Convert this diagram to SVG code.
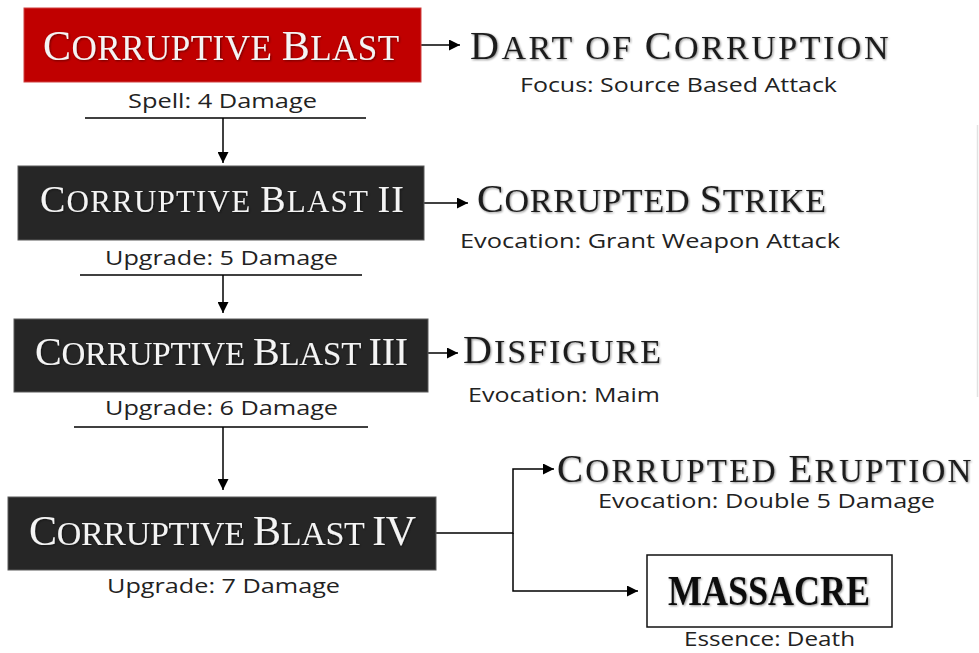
<svg xmlns="http://www.w3.org/2000/svg" width="979" height="653" viewBox="0 0 979 653">
<style>
.box{fill:#262626;stroke:#5a5a5a;stroke-width:1}
.red{fill:#c00000;stroke:#d04040;stroke-width:1}
.ttl{font-family:"Liberation Serif","Times New Roman",serif;fill:#f4f4f4}
.rt{font-family:"Liberation Serif","Times New Roman",serif;fill:#1e1e1e}
.sub{font-family:"Open Sans","Noto Sans","DejaVu Sans",sans-serif;font-size:20px;fill:#222}
.ln{stroke:#000;stroke-width:1.5;fill:none}
.shadow{filter:url(#sh)}
</style>
<defs>
<marker id="ah" markerUnits="userSpaceOnUse" markerWidth="11" markerHeight="11" refX="11" refY="5.5" orient="auto">
<path d="M0,0 L11,5.5 L0,11 z" fill="#000"/>
</marker>
<filter id="sh" x="-5%" y="-20%" width="110%" height="140%">
<feGaussianBlur in="SourceAlpha" stdDeviation="1.2" result="b"/>
<feOffset dx="0.5" dy="1" result="o"/>
<feComponentTransfer in="o" result="s"><feFuncA type="linear" slope="0.45"/></feComponentTransfer>
<feMerge><feMergeNode in="s"/><feMergeNode in="SourceGraphic"/></feMerge>
</filter>
</defs>
<rect width="979" height="653" fill="#fff"/>
<line x1="977.5" y1="125" x2="977.5" y2="397" stroke="#e2e2e2" stroke-width="1.5"/>

<g id="connectors">
<line class="ln" x1="85" y1="118" x2="366" y2="118"/>
<line class="ln" x1="80" y1="275" x2="362" y2="275"/>
<line class="ln" x1="74" y1="427" x2="368" y2="427"/>
<path class="ln" d="M223,118 V163" marker-end="url(#ah)"/>
<path class="ln" d="M223,275 V313" marker-end="url(#ah)"/>
<path class="ln" d="M223,427 V490" marker-end="url(#ah)"/>
<path class="ln" d="M421,45 H460" marker-end="url(#ah)"/>
<path class="ln" d="M424,203 H468" marker-end="url(#ah)"/>
<path class="ln" d="M428,353 H458" marker-end="url(#ah)"/>
<path class="ln" d="M436,533 H513 V469 H554" marker-end="url(#ah)"/>
<path class="ln" d="M513,533 V591 H638" marker-end="url(#ah)"/>
</g>

<g id="blast1">
<rect class="red" x="24" y="8" width="397" height="74"/>
<text class="ttl shadow" x="43" y="60" font-size="35" letter-spacing="0.5"><tspan font-size="42">C</tspan>ORRUPTIVE <tspan font-size="42">B</tspan>LAST</text>
<text class="sub" x="128" y="108" textLength="189" lengthAdjust="spacingAndGlyphs">Spell: 4 Damage</text>
</g>

<g id="blast2">
<rect class="box" x="18" y="166" width="406" height="74"/>
<text class="ttl shadow" x="40" y="212" font-size="31" letter-spacing="1.2"><tspan font-size="38">C</tspan>ORRUPTIVE <tspan font-size="38">B</tspan>LAST <tspan font-size="38">II</tspan></text>
<text class="sub" x="105" y="265" textLength="233" lengthAdjust="spacingAndGlyphs">Upgrade: 5 Damage</text>
</g>

<g id="blast3">
<rect class="box" x="14" y="319" width="414" height="73"/>
<text class="ttl shadow" x="35" y="365" font-size="33" letter-spacing="-0.2"><tspan font-size="40">C</tspan>ORRUPTIVE <tspan font-size="40">B</tspan>LAST <tspan font-size="40">III</tspan></text>
<text class="sub" x="105" y="415" textLength="233" lengthAdjust="spacingAndGlyphs">Upgrade: 6 Damage</text>
</g>

<g id="blast4">
<rect class="box" x="8" y="497" width="428" height="73"/>
<text class="ttl shadow" x="29" y="545" font-size="34" letter-spacing="-0.3"><tspan font-size="42">C</tspan>ORRUPTIVE <tspan font-size="42">B</tspan>LAST <tspan font-size="42">IV</tspan></text>
<text class="sub" x="107" y="593" textLength="233" lengthAdjust="spacingAndGlyphs">Upgrade: 7 Damage</text>
</g>

<g id="dart">
<text class="rt shadow" x="470" y="59" font-size="34" letter-spacing="2.5"><tspan font-size="40">D</tspan>ART OF <tspan font-size="40">C</tspan>ORRUPTION</text>
<text class="sub" x="520" y="92" textLength="317" lengthAdjust="spacingAndGlyphs">Focus: Source Based Attack</text>
</g>

<g id="strike">
<text class="rt shadow" x="477" y="212" font-size="34" letter-spacing="0.8"><tspan font-size="40">C</tspan>ORRUPTED <tspan font-size="40">S</tspan>TRIKE</text>
<text class="sub" x="460" y="248" textLength="380" lengthAdjust="spacingAndGlyphs">Evocation: Grant Weapon Attack</text>
</g>

<g id="disfigure">
<text class="rt shadow" x="463" y="363" font-size="34" letter-spacing="2"><tspan font-size="40">D</tspan>ISFIGURE</text>
<text class="sub" x="468" y="402" textLength="192" lengthAdjust="spacingAndGlyphs">Evocation: Maim</text>
</g>

<g id="eruption">
<text class="rt shadow" x="557" y="482" font-size="33" letter-spacing="2.3"><tspan font-size="39">C</tspan>ORRUPTED <tspan font-size="39">E</tspan>RUPTION</text>
<text class="sub" x="598" y="508" textLength="337" lengthAdjust="spacingAndGlyphs">Evocation: Double 5 Damage</text>
</g>

<g id="massacre">
<rect x="647" y="555" width="245" height="72" fill="#fff" stroke="#111" stroke-width="1.5"/>
<text class="shadow" x="668" y="605" textLength="202" lengthAdjust="spacingAndGlyphs" font-family="Liberation Serif, Times New Roman, serif" font-weight="bold" font-size="42" fill="#111">MASSACRE</text>
<text class="sub" x="684" y="646" textLength="171" lengthAdjust="spacingAndGlyphs">Essence: Death</text>
</g>
</svg>
